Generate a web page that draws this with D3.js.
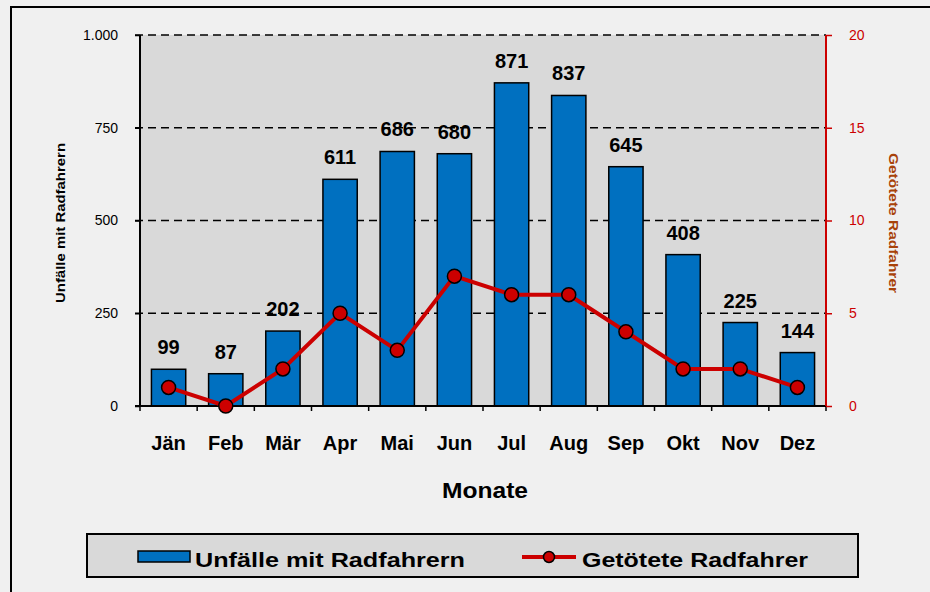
<!DOCTYPE html>
<html>
<head>
<meta charset="utf-8">
<script src="https://cdn.jsdelivr.net/npm/d3@7"></script>
<style>
  body { margin: 0; background: #f0f0f0; }
  svg { display: block; font-family: Arial, "Liberation Sans", sans-serif; }
</style>
</head>
<body>
<svg width="930" height="592"></svg>
<script>
// data
const months = ["Jän", "Feb", "Mär", "Apr", "Mai", "Jun", "Jul", "Aug", "Sep", "Okt", "Nov", "Dez"];
const accidents = [99, 87, 202, 611, 686, 680, 871, 837, 645, 408, 225, 144];
const killed = [1, 0, 2, 5, 3, 7, 6, 6, 4, 2, 2, 1];
const leftTicks = [0, 250, 500, 750, 1000];
const rightTicks = [0, 5, 10, 15, 20];

const svg = d3.select("svg");
const plotL = 140, plotR = 826, plotT = 35, plotB = 406;
const red = "#cc0000";

// outer frame
svg.append("rect")
    .attr("x", 0).attr("y", 0).attr("width", 930).attr("height", 592)
    .attr("fill", "#f0f0f0");
svg.append("rect")
    .attr("x", 11).attr("y", 7).attr("width", 1000).attr("height", 1000)
    .attr("fill", "none").attr("stroke", "#000").attr("stroke-width", 2);

const x = d3.scaleBand().domain(months).range([plotL, plotR]).paddingInner(0.4).paddingOuter(0.2);
const xb = d3.scaleBand().domain(months).range([plotL, plotR]);
const y = d3.scaleLinear().domain([0, 1000]).range([plotB, plotT]);
const y2 = d3.scaleLinear().domain([0, 20]).range([plotB, plotT]);

// plot area
svg.append("rect")
    .attr("x", plotL).attr("y", plotT).attr("width", plotR - plotL).attr("height", plotB - plotT)
    .attr("fill", "#d9d9d9");

// grid lines
svg.append("g").selectAll("line")
    .data(leftTicks.filter(d => d > 0))
    .join("line")
    .attr("x1", plotL - 5).attr("x2", plotR)
    .attr("y1", d => y(d)).attr("y2", d => y(d))
    .attr("stroke", "#000").attr("stroke-width", 1.3)
    .attr("stroke-dasharray", "8,5");

// left axis
const fmt = d => d === 1000 ? "1.000" : String(d);
const gl = svg.append("g")
    .attr("transform", `translate(${plotL},0)`)
    .call(d3.axisLeft(y).tickValues(leftTicks).tickFormat(fmt).tickSize(5).tickPadding(17));
gl.select(".domain").attr("stroke-width", 2).attr("d", `M0,${plotT}V${plotB}`);
gl.selectAll(".tick line").attr("stroke-width", 1.5);
gl.selectAll("text").attr("font-size", 14).attr("fill", "#000").attr("font-family", "Arial, 'Liberation Sans', sans-serif");

// bars
svg.append("g").selectAll("rect")
    .data(accidents)
    .join("rect")
    .attr("x", (d, i) => x(months[i]))
    .attr("y", d => y(d))
    .attr("width", x.bandwidth())
    .attr("height", d => y(0) - y(d))
    .attr("fill", "#0070c0")
    .attr("stroke", "#000").attr("stroke-width", 1.5);

// bar value labels
svg.append("g").selectAll("text")
    .data(accidents)
    .join("text")
    .attr("x", (d, i) => xb(months[i]) + xb.bandwidth() / 2)
    .attr("y", d => y(d) - 15)
    .attr("text-anchor", "middle")
    .attr("font-size", 20).attr("font-weight", "bold")
    .text(d => d);

// bottom axis
const gb = svg.append("g")
    .attr("transform", `translate(0,${plotB})`);
gb.append("line").attr("x1", plotL - 5).attr("x2", plotR).attr("stroke", "#000").attr("stroke-width", 2);
gb.selectAll("line.tk")
    .data(months)
    .join("line")
    .attr("class", "tk")
    .attr("x1", d => xb(d) + xb.bandwidth())
    .attr("x2", d => xb(d) + xb.bandwidth())
    .attr("y1", 0).attr("y2", 5)
    .attr("stroke", "#000").attr("stroke-width", 1.5);
gb.append("line").attr("x1", plotL).attr("x2", plotL).attr("y1", 0).attr("y2", 5)
    .attr("stroke", "#000").attr("stroke-width", 1.5);
gb.selectAll("text")
    .data(months)
    .join("text")
    .attr("x", d => xb(d) + xb.bandwidth() / 2)
    .attr("y", 44)
    .attr("text-anchor", "middle")
    .attr("font-size", 20).attr("font-weight", "bold")
    .text(d => d);

// right axis
const gr = svg.append("g")
    .attr("transform", `translate(${plotR},0)`)
    .call(d3.axisRight(y2).tickValues(rightTicks).tickSize(6).tickPadding(17));
gr.select(".domain").attr("stroke", red).attr("stroke-width", 2).attr("d", `M0,${plotT}V${plotB}`);
gr.selectAll(".tick line").attr("stroke", red).attr("stroke-width", 1.5);
gr.selectAll("text").attr("font-size", 14).attr("fill", red).attr("font-family", "Arial, 'Liberation Sans', sans-serif");

// killed line
const line = d3.line()
    .x((d, i) => xb(months[i]) + xb.bandwidth() / 2)
    .y(d => y2(d));
svg.append("path")
    .datum(killed)
    .attr("d", line)
    .attr("fill", "none").attr("stroke", red).attr("stroke-width", 4);
svg.append("g").selectAll("circle")
    .data(killed)
    .join("circle")
    .attr("cx", (d, i) => xb(months[i]) + xb.bandwidth() / 2)
    .attr("cy", d => y2(d))
    .attr("r", 7)
    .attr("fill", red).attr("stroke", "#000").attr("stroke-width", 1.5);

// axis titles
svg.append("text")
    .attr("transform", "translate(65,223) rotate(-90)")
    .attr("text-anchor", "middle")
    .attr("font-size", 13).attr("font-weight", "bold")
    .attr("textLength", 160).attr("lengthAdjust", "spacingAndGlyphs")
    .text("Unfälle mit Radfahrern");
svg.append("text")
    .attr("transform", "translate(889,223) rotate(90)")
    .attr("text-anchor", "middle")
    .attr("font-size", 13).attr("font-weight", "bold")
    .attr("textLength", 140).attr("lengthAdjust", "spacingAndGlyphs")
    .attr("fill", "#a8420a")
    .text("Getötete Radfahrer");
svg.append("text")
    .attr("x", 485).attr("y", 498)
    .attr("text-anchor", "middle")
    .attr("font-size", 22).attr("font-weight", "bold")
    .attr("textLength", 86).attr("lengthAdjust", "spacingAndGlyphs")
    .text("Monate");

// legend
const lg = svg.append("g");
lg.append("rect")
    .attr("x", 87).attr("y", 534).attr("width", 771).attr("height", 43)
    .attr("fill", "#d9d9d9").attr("stroke", "#000").attr("stroke-width", 2);
lg.append("rect")
    .attr("x", 138).attr("y", 551).attr("width", 52).attr("height", 11)
    .attr("fill", "#0070c0").attr("stroke", "#000").attr("stroke-width", 1.5);
lg.append("text")
    .attr("x", 195).attr("y", 567)
    .attr("font-size", 21).attr("font-weight", "bold")
    .attr("textLength", 270).attr("lengthAdjust", "spacingAndGlyphs")
    .text("Unfälle mit Radfahrern");
lg.append("line")
    .attr("x1", 522).attr("x2", 576).attr("y1", 557).attr("y2", 557)
    .attr("stroke", red).attr("stroke-width", 4);
lg.append("circle")
    .attr("cx", 549).attr("cy", 557).attr("r", 5.5)
    .attr("fill", red).attr("stroke", "#000").attr("stroke-width", 1.5);
lg.append("text")
    .attr("x", 582).attr("y", 567)
    .attr("font-size", 21).attr("font-weight", "bold")
    .attr("textLength", 226).attr("lengthAdjust", "spacingAndGlyphs")
    .attr("xml:space", "preserve")
    .text("Getötete Radfahrer");
</script>
</body>
</html>
